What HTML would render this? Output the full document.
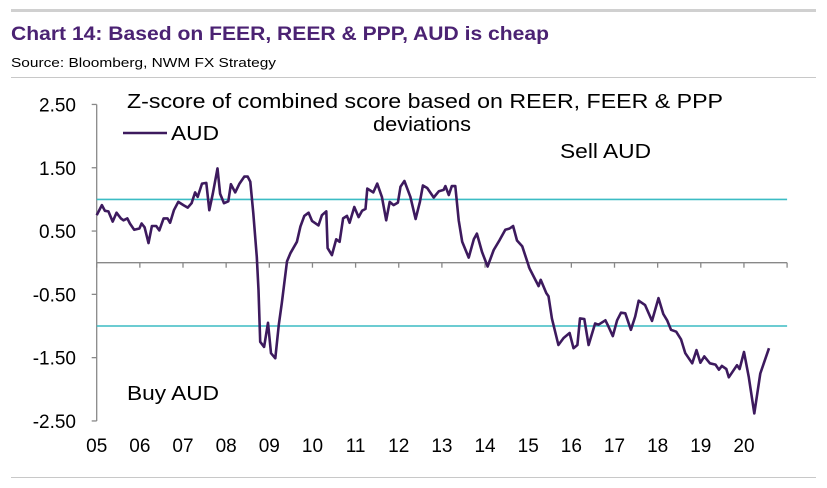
<!DOCTYPE html>
<html><head><meta charset="utf-8"><style>
body{margin:0;background:#fff;width:827px;height:483px;overflow:hidden;font-family:"Liberation Sans",Arial,sans-serif}
</style></head><body>
<svg width="827" height="483" xmlns="http://www.w3.org/2000/svg" font-family="Liberation Sans, Arial, sans-serif">
<rect x="11" y="9" width="805" height="3" fill="#d0d0d0"/>
<text x="11" y="40" font-size="19" font-weight="bold" fill="#4b2273" textLength="538" lengthAdjust="spacingAndGlyphs">Chart 14: Based on FEER, REER &amp; PPP, AUD is cheap</text>
<text x="11" y="67" font-size="13" fill="#000" textLength="265" lengthAdjust="spacingAndGlyphs">Source:  Bloomberg, NWM FX Strategy</text>
<rect x="11" y="77" width="805" height="1" fill="#c8c8c8"/>
<rect x="11" y="477" width="805" height="1" fill="#c8c8c8"/>
<g id="axes"></g>
<g id="plot"></g>
<text x="127" y="108" font-size="20" textLength="596" lengthAdjust="spacingAndGlyphs">Z-score of combined score based on REER,  FEER &amp; PPP</text>
<text x="373" y="131" font-size="20" textLength="98" lengthAdjust="spacingAndGlyphs">deviations</text>
<line x1="123" y1="133" x2="167" y2="133" stroke="#3d1a5e" stroke-width="2.5"/>
<text x="171" y="140" font-size="20" textLength="48" lengthAdjust="spacingAndGlyphs">AUD</text>
<text x="560" y="158" font-size="20" textLength="91" lengthAdjust="spacingAndGlyphs">Sell AUD</text>
<text x="127" y="400" font-size="20" textLength="92" lengthAdjust="spacingAndGlyphs">Buy AUD</text>
</svg>
<script>
const yTicks=[2.5,1.5,0.5,-0.5,-1.5,-2.5];
const yTickLabels=["2.50","1.50","0.50","-0.50","-1.50","-2.50"];
const xYears=[2005,2006,2007,2008,2009,2010,2011,2012,2013,2014,2015,2016,2017,2018,2019,2020];
const xLabels=["05","06","07","08","09","10","11","12","13","14","15","16","17","18","19","20"];
const bands=[1,-1];
const dates=[2005.00,2005.12,2005.19,2005.27,2005.37,2005.46,2005.56,2005.62,2005.71,2005.77,2005.87,2005.99,2006.04,2006.11,2006.20,2006.28,2006.38,2006.45,2006.55,2006.64,2006.70,2006.79,2006.89,2007.01,2007.11,2007.20,2007.28,2007.34,2007.44,2007.54,2007.61,2007.69,2007.80,2007.86,2007.95,2008.05,2008.11,2008.21,2008.31,2008.42,2008.50,2008.56,2008.63,2008.71,2008.75,2008.79,2008.88,2008.97,2009.04,2009.14,2009.22,2009.29,2009.41,2009.49,2009.64,2009.72,2009.81,2009.91,2009.99,2010.14,2010.22,2010.32,2010.35,2010.45,2010.55,2010.63,2010.71,2010.80,2010.86,2010.97,2011.07,2011.15,2011.23,2011.27,2011.41,2011.50,2011.61,2011.71,2011.79,2011.88,2011.98,2012.04,2012.13,2012.27,2012.39,2012.49,2012.56,2012.66,2012.81,2012.93,2013.04,2013.08,2013.16,2013.23,2013.31,2013.39,2013.47,2013.62,2013.74,2013.81,2013.93,2014.06,2014.20,2014.34,2014.47,2014.57,2014.65,2014.74,2014.86,2015.03,2015.12,2015.24,2015.29,2015.42,2015.47,2015.55,2015.70,2015.82,2015.96,2016.05,2016.14,2016.20,2016.30,2016.40,2016.55,2016.63,2016.79,2016.86,2016.96,2017.06,2017.15,2017.25,2017.38,2017.48,2017.56,2017.71,2017.87,2018.02,2018.13,2018.22,2018.31,2018.43,2018.54,2018.64,2018.80,2018.90,2018.99,2019.08,2019.21,2019.34,2019.42,2019.49,2019.59,2019.65,2019.84,2019.90,2020.00,2020.11,2020.24,2020.38,2020.58];
const audZ=[0.75,0.91,0.82,0.81,0.65,0.79,0.70,0.67,0.70,0.62,0.52,0.54,0.62,0.56,0.31,0.58,0.58,0.51,0.70,0.70,0.63,0.83,0.96,0.91,0.87,0.94,1.11,1.04,1.25,1.26,0.83,1.09,1.49,1.09,0.94,0.97,1.24,1.11,1.25,1.36,1.36,1.28,0.78,0.09,-0.43,-1.25,-1.33,-0.95,-1.43,-1.51,-0.98,-0.64,0.02,0.15,0.33,0.57,0.74,0.79,0.66,0.59,0.75,0.81,0.23,0.12,0.37,0.33,0.70,0.74,0.63,0.88,0.72,0.82,0.85,1.17,1.11,1.25,1.04,0.67,0.96,0.91,0.95,1.20,1.29,1.04,0.69,0.96,1.22,1.18,1.03,1.13,1.15,1.21,1.07,1.21,1.21,0.67,0.33,0.08,0.37,0.46,0.17,-0.06,0.20,0.36,0.52,0.54,0.58,0.35,0.26,-0.09,-0.21,-0.37,-0.27,-0.48,-0.53,-0.88,-1.30,-1.19,-1.11,-1.35,-1.30,-0.88,-0.89,-1.30,-0.96,-0.98,-0.91,-1.01,-1.16,-0.91,-0.79,-0.80,-1.06,-0.85,-0.60,-0.67,-0.92,-0.56,-0.81,-0.91,-1.06,-1.09,-1.21,-1.43,-1.59,-1.38,-1.58,-1.48,-1.59,-1.61,-1.69,-1.63,-1.68,-1.81,-1.62,-1.68,-1.41,-1.80,-2.38,-1.75,-1.35];

const NS="http://www.w3.org/2000/svg";
const x0=96.7, xPer=43.15, y0=262.7, yPer=63.3;
const xs=v=>x0+(v-2005)*xPer;
const ys=v=>y0-v*yPer;
const axes=document.getElementById('axes'), plot=document.getElementById('plot');
function mk(tag,attrs,parent){const e=document.createElementNS(NS,tag);for(const k in attrs)e.setAttribute(k,attrs[k]);parent.appendChild(e);return e;}

let ya=mk('line',{x1:x0,y1:ys(2.5),x2:x0,y2:ys(-2.5),stroke:'#888','stroke-width':1.3},axes);


yTicks.forEach((v,i)=>{
  const t=mk('line',{x1:x0-5,y1:ys(v),x2:x0,y2:ys(v),stroke:'#888','stroke-width':1.3},axes);
  
  
  const l=mk('text',{x:76,y:ys(v)+7,'font-size':19,'text-anchor':'end'},axes);
  l.textContent=yTickLabels[i];
  
  
});
let xa=mk('line',{x1:x0,y1:y0,x2:xs(2021),y2:y0,stroke:'#888','stroke-width':1.3},axes);


for(let yr=2005;yr<=2021;yr++){
  const t=mk('line',{x1:xs(yr),y1:y0,x2:xs(yr),y2:y0+5,stroke:'#888','stroke-width':1.3},axes);
  
  
}
xYears.forEach((yr,i)=>{
  const l=mk('text',{x:xs(yr),y:452,'font-size':19,'text-anchor':'middle'},axes);
  l.textContent=xLabels[i];
  
  
});
bands.forEach(b=>{
  const l=mk('line',{x1:x0,y1:ys(b),x2:xs(2021),y2:ys(b),stroke:'#3cbcc4','stroke-width':1.6},plot);
  
  
});
const pts=dates.map((d,i)=>xs(d).toFixed(1)+','+ys(audZ[i]).toFixed(1)).join(' ');
const pl=mk('polyline',{points:pts,fill:'none',stroke:'#3d1a5e','stroke-width':2.6,'stroke-linejoin':'round'},plot);


</script>
</body></html>
